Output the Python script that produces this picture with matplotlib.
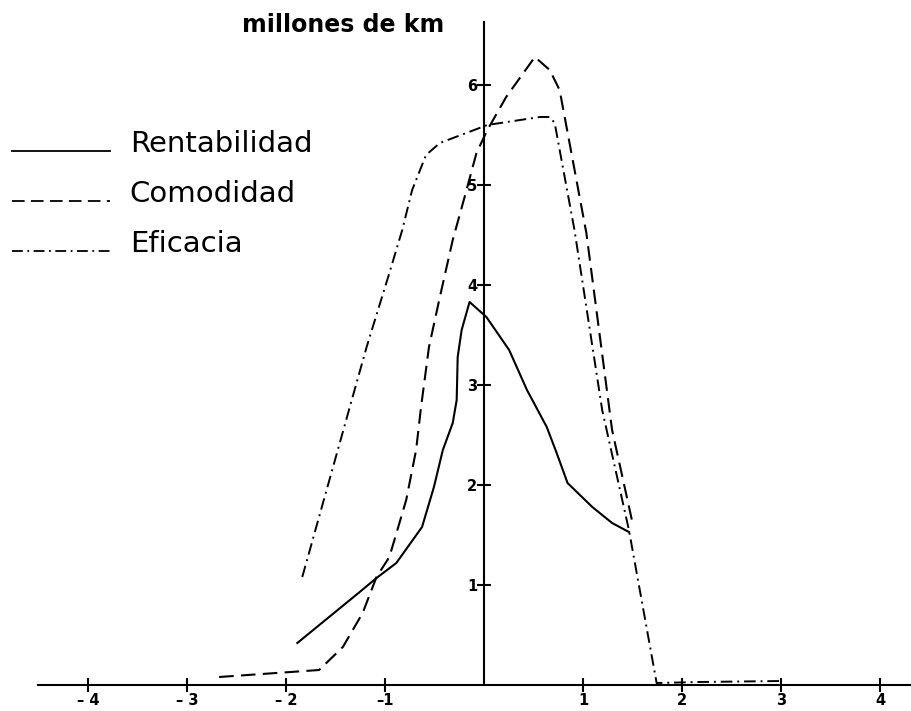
import matplotlib.pyplot as plt
from matplotlib.ticker import FixedLocator
from matplotlib.legend_handler import HandlerLine2D

# ---- data ----
rent_x = [-1.89, -1.26, -1.09, -0.89, -0.63, -0.51, -0.42, -0.32, -0.28, -0.27,
          -0.23, -0.15, 0.02, 0.25, 0.43, 0.63, 0.73, 0.84, 1.09, 1.29, 1.46]
rent_y = [0.42, 0.93, 1.07, 1.22, 1.58, 1.98, 2.35, 2.62, 2.85, 3.28,
          3.55, 3.83, 3.68, 3.35, 2.95, 2.58, 2.32, 2.02, 1.78, 1.62, 1.53]

como_x = [-2.68, -1.67, -1.43, -1.23, -1.09, -0.96, -0.79, -0.69, -0.64, -0.56,
          -0.45, -0.32, -0.20, -0.08, 0.03, 0.22, 0.51, 0.66, 0.76, 1.03, 1.29, 1.49]
como_y = [0.08, 0.15, 0.38, 0.72, 1.08, 1.28, 1.85, 2.35, 2.78, 3.38,
          3.88, 4.45, 4.88, 5.32, 5.55, 5.88, 6.28, 6.15, 5.95, 4.52, 2.55, 1.65]

efic_x = [-1.84, -1.34, -1.19, -0.96, -0.83, -0.73, -0.59, -0.45, 0.03, 0.56,
          0.66, 0.71, 0.91, 1.19, 1.46, 1.74, 2.17, 3.01]
efic_y = [1.08, 2.85, 3.38, 4.12, 4.55, 4.95, 5.30, 5.42, 5.60, 5.68,
          5.68, 5.62, 4.55, 2.75, 1.55, 0.02, 0.03, 0.04]

x_ticks = [-4, -3, -2, -1, 1, 2, 3, 4]
x_labels = ['– 4', '– 3', '– 2', '–1', '1', '2', '3', '4']
y_ticks = [1, 2, 3, 4, 5, 6]

fig = plt.figure(figsize=(9.12, 7.11), dpi=100)
ax = fig.add_axes([38 / 912, 16 / 711, 874 / 912, 673 / 711])

ax.plot(rent_x, rent_y, color='black', lw=1.5, ls='-', label='Rentabilidad')
ax.plot(como_x, como_y, color='black', lw=1.5, ls=(0, (7, 3.5)), label='Comodidad')
ax.plot(efic_x, efic_y, color='black', lw=1.4, ls=(0, (6, 2.5, 1, 2.5)), label='Eficacia')

ax.set_xlim(-4.51, 4.32)
ax.set_ylim(-0.1, 6.63)

# cross-shaped axes through the origin
for s in ['top', 'right']:
    ax.spines[s].set_visible(False)
ax.spines['left'].set_position(('data', 0))
ax.spines['bottom'].set_position(('data', 0))
ax.spines['left'].set_bounds(0, 6.63)
ax.spines['left'].set_linewidth(1.5)
ax.spines['bottom'].set_linewidth(1.5)

ax.xaxis.set_major_locator(FixedLocator(x_ticks))
ax.set_xticklabels(x_labels, fontweight='bold', fontsize=10.5)
ax.yaxis.set_major_locator(FixedLocator(y_ticks))
ax.set_yticklabels([str(v) for v in y_ticks], fontweight='bold', fontsize=10.5)
ax.tick_params(axis='both', direction='inout', length=10, width=1.5)
ax.tick_params(axis='x', pad=1)
ax.tick_params(axis='y', pad=0)

fig.text(343 / 912, 1 - 25 / 711, 'millones de km', fontsize=17,
         fontweight='bold', ha='center', va='center')


# legend lines sit on the text baseline, like in the original
def lower_line(leg_line, orig):
    leg_line.update_from(orig)
    leg_line.set_ydata([y - 6.5 for y in leg_line.get_ydata()])
    leg_line.set_linewidth(1.3)


leg = ax.legend(loc='upper left', bbox_to_anchor=(12 / 912, 1 - 130 / 711),
                bbox_transform=fig.transFigure, frameon=False, fontsize=21,
                handlelength=3.36, handletextpad=0.68, labelspacing=0.76,
                borderpad=0, borderaxespad=0,
                handler_map={plt.Line2D: HandlerLine2D(update_func=lower_line)})

fig.savefig('out.png', dpi=100, facecolor='white')
